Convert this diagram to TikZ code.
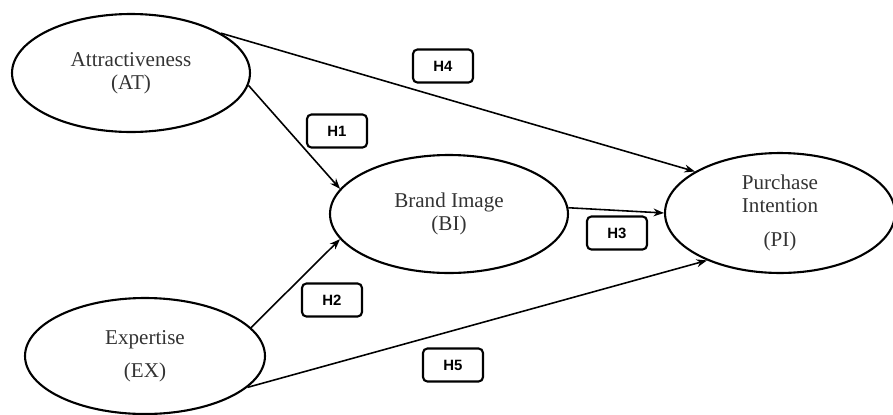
\documentclass[tikz,border=0pt]{standalone}
\usepackage{fontspec}
\setmainfont{Liberation Serif}
\newfontfamily\hfont{Liberation Sans}
\usetikzlibrary{shapes.geometric,arrows.meta}
\begin{document}
\begin{tikzpicture}[x=0.02cm, y=0.02cm,
    construct/.style={draw, ellipse, line width=1.2pt, inner sep=0pt, align=center,
      text=black!80, font=\fontsize{12}{13}\selectfont},
    hyp/.style={draw, rounded corners=2.5pt, line width=1.2pt, minimum width=1.2cm,
      minimum height=0.66cm, font=\hfont\bfseries\fontsize{8.5}{9}\selectfont},
    effect/.style={-{Stealth[length=6pt,width=4.5pt]}, line width=0.9pt}]
  \useasboundingbox (0,0) rectangle (893,414);
  \node[construct, minimum width=4.76cm, minimum height=2.36cm] (AT) at (131,341) {Attractiveness\\(AT)};
  \node[construct, minimum width=4.76cm, minimum height=2.36cm] (BI) at (449,200) {Brand Image\\(BI)};
  \node[construct, minimum width=4.8cm, minimum height=2.32cm] (EX) at (145,58) {Expertise\\[6pt](EX)};
  \node[construct, minimum width=4.6cm, minimum height=2.4cm] (PI) at (780,201) {Purchase\\Intention\\[6pt](PI)};
  \node[hyp] (h4) at (443,348) {H4};
  \node[hyp] (h1) at (337,283) {H1};
  \node[hyp] (h3) at (617,181) {H3};
  \node[hyp] (h2) at (332,114) {H2};
  \node[hyp] (h5) at (453,49) {H5};
  \draw[effect] (AT.24) -- (PI.154);
  \draw[effect] (AT.-6) -- (BI.167);
  \draw[effect] (BI.3) -- (PI.180);
  \draw[effect] (EX.15) -- (BI.193);
  \draw[effect] (EX.-17) -- (PI.213);
\end{tikzpicture}
\end{document}
